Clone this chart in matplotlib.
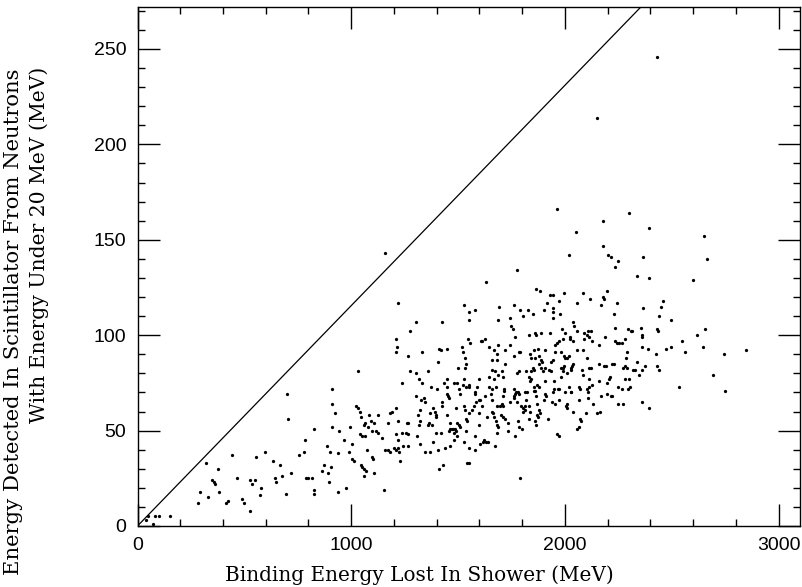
import matplotlib
matplotlib.use('Agg')
import matplotlib.pyplot as plt
import numpy as np
from matplotlib.ticker import MultipleLocator, FixedLocator

# ---- data (x = binding energy lost, y = energy detected), MeV ----
pts_low = [(700,69),(705,56),(910,72),(910,64),(925,59),(908,52),(943,50),(827,51),(784,45),(777,39),
           (756,37),(885,42),(899,39),(871,32),(862,29),(905,31),(893,28),(896,23),(937,38),(965,45),
           (994,52),(1005,43),(990,39),(1002,35),(1011,34),(1043,48),(1049,47),(1065,47),(1046,32),(1052,31),
           (1062,30),(1062,26),(1068,29),(1074,40),(1021,63),(1030,62),(1040,60),(1046,57),(1058,53),(1065,54),
           (1083,58),(1077,52),(1099,50),(1124,49),(1115,50),(1124,58),(1093,55),(1105,54),(1143,46),(1158,40),
           (1183,59),(1190,60),(1208,62),(1174,54),(1221,55),(1208,48),(1236,49),(1221,45),(1218,41),(1224,39),
           (1183,39),(1171,40),(1199,41),(1208,40),(1240,42),(1264,48),(1261,54),(1268,54),(1258,49),(1236,75),
           (1302,68),(1330,75),(1314,58),(1324,55),(1321,61),(1327,66),(1346,65),(1339,67),(1318,53),(1308,47),
           (1324,43),(1346,39),(1358,53),(1368,59),(1374,73),(1155,19),(974,20),(940,18),(826,19),(827,17),
           (787,25),(799,25),(815,25),(718,28),(695,17),(665,32),(643,25),(674,26),(634,34),(596,39),
           (649,23),(578,20),(571,16),(550,24),(553,36),(534,22),(525,24),(528,8),(490,14),(496,12),
           (465,25),(440,37),(425,13),(415,12),(381,18),(375,30),(356,23),(362,22),(350,24),(331,15),
           (322,33),(294,18),(284,12),(150,5),(100,5),(84,5),(50,5),(38,3),(72,1)]

pts_upper_left = [(1158,143),(1221,117),(1302,107),(1275,102),(1211,98),(1214,94),(1211,91),(1268,89),
                  (1330,91),(1033,81),(1277,81),(1302,80),(1361,81),(1318,77)]

pts_mid_upper = [(1527,116),(1552,112),(1580,113),(1552,108),(1424,107),(1405,86),(1411,93),(1421,92),
                 (1449,93),(1517,94),(1546,98),(1558,96),(1608,97),(1521,91),(1533,88),(1499,83),(1539,85),
                 (1533,83),(1446,77),(1433,75),(1483,75),(1496,75),(1527,77),(1521,74),(1549,74),(1596,77),
                 (1589,73),(1449,73),(1402,72)]

pts_mid_lower = [(1096,36),(1102,35),(1108,28),(1227,34),(1268,42),(1383,62),(1362,54),(1380,53),(1424,65),
                 (1427,63),(1455,68),(1458,67),(1449,69),(1390,60),(1396,58),(1399,57),(1446,58),(1396,49),
                 (1418,49),(1383,44),(1368,39),(1405,40),(1439,41),(1411,30),(1430,32),(1464,42),(1480,45),
                 (1458,50),(1464,51),(1471,51),(1477,51),(1486,51),(1480,49),(1492,50),(1461,54),(1495,47),
                 (1489,62),(1496,54),(1505,53),(1508,52),(1527,63),(1533,61),(1539,56),(1542,55),(1539,50),
                 (1549,59),(1527,44),(1549,41),(1580,40),(1549,33),(1564,61),(1574,63),(1586,65),(1596,66),
                 (1602,66),(1580,69),(1596,59),(1599,53),(1580,47),(1505,72),(1536,73),(1552,73),(1580,70),
                 (1508,69)]

pts_core_upper = [(1777,134),(1633,128),(2236,136),(2248,139),(1867,124),(1883,123),(1930,121),(1945,121),
                  (1995,122),(2086,122),(2117,119),(2198,123),(2180,120),(2183,119),(2167,116),(2242,117),
                  (1917,117),(1974,118),(2055,117),(1764,116),(1693,115),(1792,113),(1805,110),(1827,113),
                  (1849,111),(1902,113),(1942,114),(1942,112),(1942,109),(1977,111),(1742,109),(1689,108),
                  (2229,111),(1746,105),(1755,103),(2036,107),(2042,105),(2233,104),(2295,103),(2308,102),
                  (1861,101),(1867,100),(1886,101),(1930,101),(1830,100),(1767,99),(1986,103),(2002,101),
                  (1989,98),(2023,99),(2026,98),(2055,102),(2036,97),(2089,101),(2102,100),(2108,102),
                  (2120,102),(2114,99),(2089,98),(2127,97),(2158,95),(2186,99),(2233,97),(2242,96),
                  (2254,96),(2267,96),(2279,98),(2292,91),(2286,88),(1627,98),(1611,97),(1643,94),
                  (1686,95),(1667,92),(1680,90),(1721,92),(1742,95),(1786,91),(1792,91),(1761,89)]

pts_core_mid = [(1683,87),(1721,85),(1658,87),(1855,92),(1874,93),(1836,90),(1842,88),(1861,88),(1880,89),
                (1886,87),(1895,86),(1880,85),(1889,83),(1849,83),(1855,82),(1842,81),(1908,92),(1933,86),
                (1942,87),(1955,95),(1964,96),(1970,97),(1955,91),(1980,91),(1998,89),(2008,88),(2002,88),
                (2020,89),(2039,85),(2033,84),(2030,83),(2027,82),(1995,84),(1992,83),(2058,92),(2086,92),
                (2080,82),(2111,83),(2120,83),(2102,88),(2158,85),(2183,84),(2192,84),(2220,85),(2230,85),
                (2273,83),(2283,84),(2292,83),(2158,76),(2211,78),(2204,77),(2198,75),(2248,73),(2283,77),
                (2298,77),(1774,80),(1783,81),(1658,82),(1674,81),(1643,78),(1667,77),(1686,79),(1708,78),
                (1705,81),(1643,73),(1658,72),(1677,73),(1714,72),(1820,81),(1830,78),(1842,77),(1836,76),
                (1855,73),(1870,74),(1880,73),(1905,76),(1897,81),(1905,83),(1924,82),(1936,81),(1949,76),
                (1949,72),(1967,72),(1983,83),(1992,81),(2011,80),(1980,78),(2020,73),(2064,73),(2086,79),
                (2114,77),(2111,73),(2127,74),(2295,72),(2304,73),(2267,72)]

pts_right = [(2339,131),(2392,130),(2601,129),(2461,118),(2448,115),(2367,114),(2439,110),(2498,108),
             (2358,104),(2314,102),(2433,103),(2436,102),(2361,100),(2361,99),(2620,100),(2654,103),
             (2548,97),(2361,94),(2389,93),(2473,93),(2495,94),(2561,91),(2645,94),(2745,90),(2845,92),
             (2426,90),(2339,86),(2373,84),(2429,84),(2439,82),(2317,82),(2330,82),(2361,82),(2345,79),
             (2692,79),(2536,73),(2748,71)]

pts_high = [(1964,166),(2301,164),(2180,160),(2052,154),(2395,156),(2651,152),(2176,147),(2017,142),
            (2201,142),(2217,141),(2364,141),(2663,140),(2430,246),(2150,214)]

pts_core_lower = [(1655,69),(1658,66),(1624,68),(1708,68),(1714,71),(1761,72),(1761,68),(1767,69),(1780,70),
                  (1786,69),(1770,70),(1811,70),(1824,70),(1855,71),(1861,71),(1908,69),(1945,70),(1974,72),
                  (2002,70),(2027,70),(2070,72),(2105,72),(2108,70),(2198,69),(2214,68),(2167,68),(1614,63),
                  (1683,63),(1696,63),(1705,64),(1711,63),(1745,65),(1761,67),(1774,65),(1795,63),(1802,62),
                  (1805,60),(1811,61),(1814,63),(1820,66),(1830,63),(1836,60),(1864,68),(1870,64),(1877,61),
                  (1870,58),(1902,66),(1911,68),(1939,65),(1955,64),(1974,66),(2011,64),(2011,62),(2005,63),
                  (2030,70),(2064,66),(2108,67),(2133,64),(2151,59),(2039,60),(2070,56),(2055,51),(2248,64),
                  (2270,64),(1636,57),(1658,60),(1667,57),(1664,59),(1677,55),(1680,53),(1686,52),(1699,58),
                  (1711,57),(1721,56),(1733,54),(1733,50),(1680,49),(1780,55),(1783,52),(1799,51),(1830,56),
                  (1861,55),(1867,53),(1874,57),(1883,59),(1920,56),(1767,47),(1621,45),(1639,44),(1671,42),
                  (1970,47),(1792,25),(2361,65),(2395,62),(2164,60),(2099,59),(2077,55),(2064,52),(1963,48),
                  (1543,33),(1602,43),(1617,44),(1633,44),(2220,68)]

groups = [pts_low, pts_upper_left, pts_mid_upper, pts_mid_lower, pts_core_upper,
          pts_core_mid, pts_right, pts_high, pts_core_lower]

# reference line through the origin
line_x = [0, 3100]
line_y = [0, 358]

x_major = [0, 1000, 2000, 3000]
y_major = [0, 50, 100, 150, 200, 250]
x_label = "Binding Energy Lost In Shower (MeV)"
y_label_1 = "Energy Detected In Scintillator From Neutrons"
y_label_2 = "With Energy Under 20 MeV (MeV)"

W, H = 802, 587
fig = plt.figure(figsize=(W / 100, H / 100), dpi=100)
L, R, T, B = 137.5, 800, 7, 526
ax = fig.add_axes([L / W, 1 - B / H, (R - L) / W, (B - T) / H])

pts = np.vstack([np.array(g, dtype=float) for g in groups])
ax.scatter(pts[:, 0], pts[:, 1], s=5.5, c='black', marker='o', linewidths=0, zorder=3)
ax.plot(line_x, line_y, color='black', lw=0.9, zorder=2)

ax.set_xlim(0, 3100)
ax.set_ylim(0, 272)
ax.xaxis.set_major_locator(FixedLocator(x_major))
ax.yaxis.set_major_locator(FixedLocator(y_major))
ax.xaxis.set_minor_locator(MultipleLocator(200))
ax.yaxis.set_minor_locator(MultipleLocator(10))
ax.set_xticklabels([str(v) for v in x_major])
ax.set_yticklabels([str(v) for v in y_major])

for s in ax.spines.values():
    s.set_linewidth(1.0)
ax.tick_params(which='both', direction='in', top=True, right=True, width=1.0)
ax.tick_params(which='major', length=15.5, labelsize=14, pad=8)
ax.tick_params(which='minor', length=5)
for lab in ax.get_xticklabels() + ax.get_yticklabels():
    lab.set_family('Liberation Sans')

fig.text(419 / W, 1 - 575 / H, x_label, ha='center', va='center',
         family='DejaVu Serif', fontsize=14.4)
fig.text(14 / W, 1 - 322 / H, y_label_1, ha='center', va='center', rotation=90,
         family='DejaVu Serif', fontsize=15.2)
fig.text(39 / W, 1 - 245 / H, y_label_2, ha='center', va='center', rotation=90,
         family='DejaVu Serif', fontsize=14.6)

fig.savefig('out.png', dpi=100)
